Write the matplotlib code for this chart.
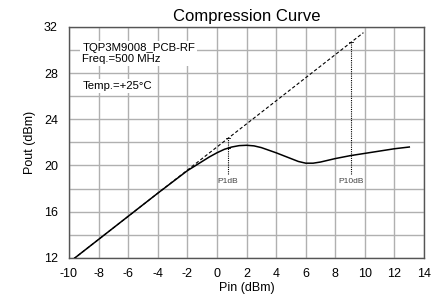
import matplotlib
matplotlib.use("Agg")
import matplotlib.pyplot as plt
import numpy as np

plt.rcParams['font.family'] = ['Liberation Sans', 'DejaVu Sans']
plt.rcParams['axes.unicode_minus'] = False

pin = [-10, -8, -6, -4, -2, -1.5, -1, -0.5, 0, 0.5, 1, 1.5, 2, 2.5, 3, 4, 5, 5.5, 6, 6.5, 7,
       8, 9, 10, 11, 12, 13]
pout = [11.6, 13.6, 15.6, 17.6, 19.55, 19.95, 20.35, 20.75, 21.1, 21.4, 21.6, 21.72, 21.75,
        21.7, 21.55, 21.1, 20.6, 20.35, 20.2, 20.2, 20.3, 20.6, 20.85, 21.05, 21.25, 21.45, 21.6]
lin_x = [-10, 9.9]
lin_y = [11.6, 31.5]
p1_x, p1_top, p1_curve = 0.75, 22.4, 21.5
p10_x, p10_top, p10_curve = 9.05, 30.7, 20.9
marker_bottom = 19.3
xticks = list(range(-10, 15, 2))
yticks = [12, 16, 20, 24, 28, 32]
ygrid = list(range(12, 33, 2))

fig = plt.figure(figsize=(4.45, 3.02), dpi=100)
ax = fig.add_axes([0.155, 0.146, 0.798, 0.765])

ax.set_xlim(-10, 14)
ax.set_ylim(12, 32)
ax.set_xticks(xticks)
ax.set_yticks(yticks)
ax.set_yticks(ygrid, minor=True)
ax.grid(True, which='both', color='#b0b0b0', linewidth=1.0)
ax.set_axisbelow(True)
ax.tick_params(which='both', length=0, labelsize=9)
ax.tick_params(axis='x', pad=7)
ax.tick_params(axis='y', pad=8)
for s in ax.spines.values():
    s.set_color('#555555')
    s.set_linewidth(1.0)

ax.plot(lin_x, lin_y, color='black', linestyle=(0, (3, 2)), linewidth=0.8, zorder=3)
ax.plot(pin, pout, color='black', linewidth=1.1, zorder=4)

for x, top, cur in [(p1_x, p1_top, p1_curve), (p10_x, p10_top, p10_curve)]:
    ax.plot([x, x], [marker_bottom, top], color='black', linestyle=(0, (1, 1)),
            linewidth=0.8, zorder=5)
    for yy in (top, cur):
        ax.plot([x - 0.15, x + 0.15], [yy, yy], color='black', linewidth=0.6, zorder=5)

ax.text(p1_x, 18.6, 'P1dB', fontsize=6, ha='center', va='center', color='#444444')
ax.text(p10_x, 18.6, 'P10dB', fontsize=6, ha='center', va='center', color='#444444')

bb = dict(facecolor='white', edgecolor='none', pad=1.5)
ax.text(-9.1, 29.7, 'TQP3M9008_PCB-RF\nFreq.=500 MHz', fontsize=8.2, ha='left',
        va='center', linespacing=1.1, bbox=bb, zorder=6)
ax.text(-9.1, 26.85, 'Temp.=+25°C', fontsize=8.2, ha='left', va='center', bbox=bb, zorder=6)

ax.set_title('Compression Curve', fontsize=12, pad=4)
ax.set_xlabel('Pin (dBm)', fontsize=9, labelpad=2)
ax.set_ylabel('Pout (dBm)', fontsize=9, labelpad=6)

fig.savefig('out.png', dpi=100)
